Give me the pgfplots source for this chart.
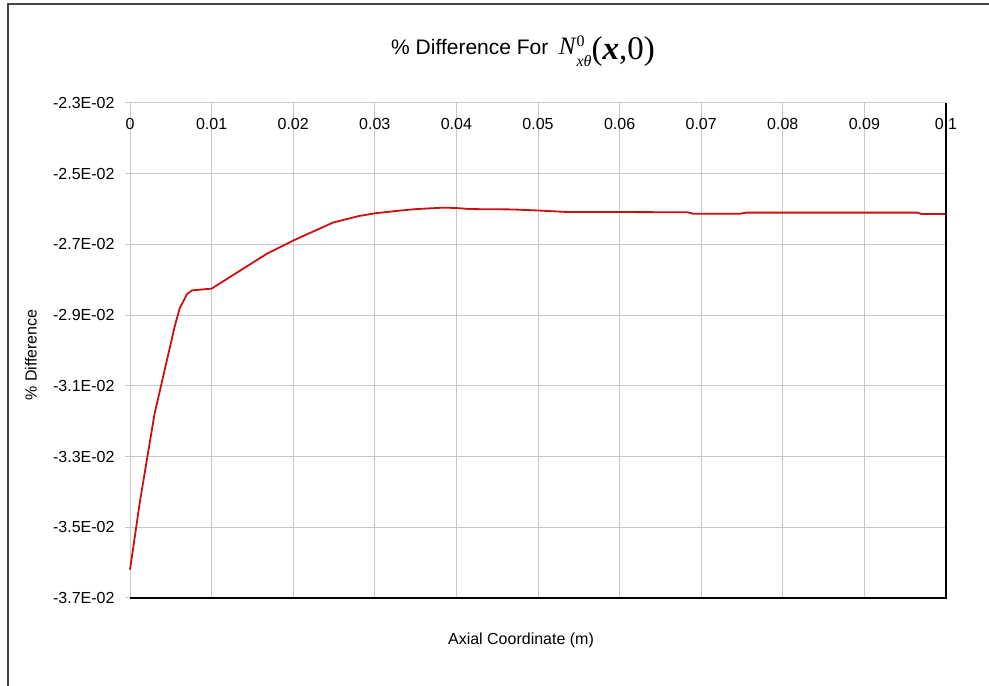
\documentclass[border=0pt]{standalone}
\usepackage{pgfplots}
\pgfplotsset{compat=1.18}
\usepackage{fontspec}
\setmainfont{Liberation Sans}
\newfontfamily\serif{Liberation Serif}

\definecolor{gridgray}{RGB}{200,200,200}
\definecolor{linered}{RGB}{204,16,16}
\definecolor{framegray}{RGB}{70,70,70}

\begin{document}
\begin{tikzpicture}[x=1pt,y=1pt]
% page the size of the reference, 1px = 1pt
\path[use as bounding box] (0,0) rectangle (989,686);
\draw[framegray, line width=1.4pt] (8,0) -- (8,682) -- (989,682);

\begin{axis}[
    at={(130pt,88pt)}, anchor=south west,
    scale only axis,
    width=816pt, height=495pt,
    xmin=0, xmax=0.1,
    ymin=-0.037, ymax=-0.023,
    scaled x ticks=false, scaled y ticks=false,
    xtick={0,0.01,0.02,0.03,0.04,0.05,0.06,0.07,0.08,0.09,0.1},
    xticklabels={0,0.01,0.02,0.03,0.04,0.05,0.06,0.07,0.08,0.09,0.1},
    ytick={-0.037,-0.035,-0.033,-0.031,-0.029,-0.027,-0.025,-0.023},
    yticklabels={-3.7E-02,-3.5E-02,-3.3E-02,-3.1E-02,-2.9E-02,-2.7E-02,-2.5E-02,-2.3E-02},
    xticklabel pos=upper,
    x tick label style={anchor=north, yshift=-17pt},
    y tick label style={xshift=-7pt},
    tick label style={font=\fontsize{16}{18}\selectfont},
    x tick style={draw=none},
    y tick style={gridgray, line width=1pt},
    ytick pos=left,
    tick align=outside,
    major tick length=5pt,
    grid=major,
    grid style={gridgray, line width=1pt},
    axis line style={draw=none},
    /pgf/number format/assume math mode=true,
    clip=false,
]
\addplot[linered, line width=1.8pt] coordinates {
    (0,-0.0362) (0.0012,-0.0343) (0.0030,-0.0318) (0.0048,-0.0300)
    (0.0055,-0.0293) (0.0061,-0.0288) (0.0070,-0.0284) (0.0076,-0.0283)
    (0.0100,-0.02825) (0.0135,-0.02774) (0.0168,-0.02726) (0.0200,-0.02689)
    (0.0249,-0.02638) (0.0280,-0.02620) (0.0300,-0.02612) (0.0332,-0.02604)
    (0.0351,-0.02600) (0.0384,-0.02596) (0.0400,-0.02597) (0.0416,-0.02600)
    (0.0468,-0.02601) (0.0500,-0.02604) (0.0533,-0.02608) (0.0683,-0.02609)
    (0.0690,-0.02613) (0.0748,-0.02613) (0.0755,-0.02610) (0.0965,-0.02610)
    (0.0970,-0.02614) (0.1000,-0.02614)
};
\draw[black, line width=1.3pt] (rel axis cs:0,0) -- (rel axis cs:1,0) -- (rel axis cs:1,1);
\end{axis}

\node[font=\fontsize{21}{25}\selectfont, anchor=base] at (523,631)
  {\% Difference For\enspace{\serif\fontsize{25}{30}\selectfont\itshape N\kern1pt%
   \rlap{\raisebox{8pt}{\fontsize{16}{16}\selectfont\upshape 0}}%
   \raisebox{-12pt}{\fontsize{16}{16}\selectfont xθ}%
   \raisebox{-5pt}{\fontsize{33}{33}\selectfont\upshape(\textbf{\textit{x}},0)}}};
\node[rotate=90, font=\fontsize{16}{18}\selectfont] at (31,331) {\% Difference};
\node[font=\fontsize{16}{18}\selectfont] at (521,46) {Axial Coordinate (m)};
\end{tikzpicture}
\end{document}
